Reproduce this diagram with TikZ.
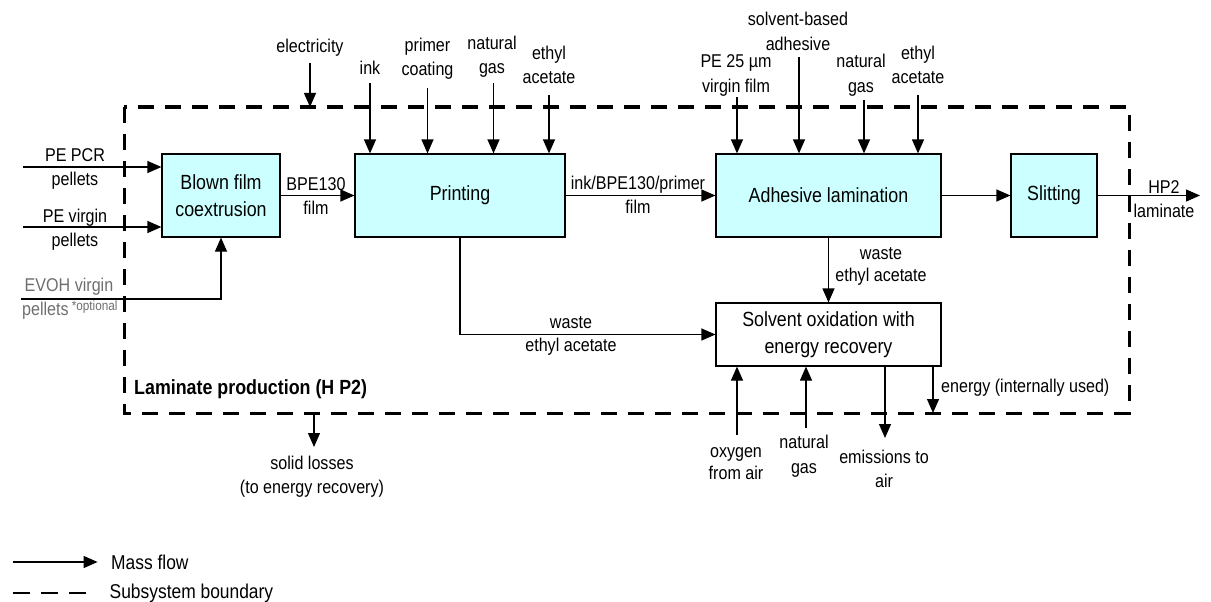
\documentclass[tikz,border=0pt]{standalone}
\usepackage{fontspec}
\setmainfont{Liberation Sans}[FakeStretch=0.87]
\usetikzlibrary{arrows.meta}
\definecolor{boxfill}{RGB}{204,255,255}
\definecolor{evgray}{RGB}{110,110,110}
\begin{document}
\begin{tikzpicture}[x=1pt,y=-1pt,
  lbl/.style={inner sep=0pt, align=center, font=\fontsize{18.5}{24}\selectfont},
  proc/.style={draw, line width=1.2pt, fill=boxfill, minimum height=83pt, inner sep=0pt, align=center, font=\fontsize{20.5}{27}\selectfont},
  flow/.style={line width=1.2pt, -{Triangle[length=14pt,width=12pt]}},
  boundary/.style={line width=3pt, dash pattern=on 16pt off 11pt}]
\useasboundingbox (0,0) rectangle (1211,602);

% subsystem boundary
\draw[boundary] (124,107) rectangle (1129,413);
\node[anchor=west, inner sep=0pt, font=\fontsize{20.5}{24}\selectfont\bfseries] (title) at (134,389) {Laminate production (H P2)};

% process boxes
\node[proc, minimum width=118pt] (blown) at (221,195.5) {Blown film\\coextrusion};
\node[proc, minimum width=210pt] (print) at (460,195.5) {Printing};
\node[proc, minimum width=225pt] (adh) at (828.5,195.5) {Adhesive lamination};
\node[proc, minimum width=86pt] (slit) at (1054,195.5) {Slitting};
\node[proc, minimum width=225pt, minimum height=63pt, fill=white] (solv) at (828.5,334.5) {Solvent oxidation with\\energy recovery};

% main chain
\draw[flow] (blown.east) -- (print.west);
\node[lbl] (bpe) at (316,196) {BPE130\\film};
\draw[flow] (print.east) -- (adh.west);
\node[lbl] (ibp) at (638,195) {ink/BPE130/primer\\film};
\draw[flow] (adh.east) -- (slit.west);
\coordinate (out) at (1200,195.5);
\draw[flow] (slit.east) -- (out);
\node[lbl] (hp2) at (1164,199) {HP2\\laminate};

% waste flows
\draw[flow] (adh.south) -- (solv.north);
\node[lbl, font=\fontsize{18.5}{22}\selectfont] (w2) at (881,266) {waste\\ethyl acetate};
\draw[flow] (print.south) |- (solv.west);
\node[lbl, font=\fontsize{18.5}{23}\selectfont] (w1) at (571,335.5) {waste\\ethyl acetate};

% left inputs
\coordinate (pcrS) at (23,167);
\draw[flow] (pcrS) -- (pcrS -| blown.west);
\node[lbl] (pcr) at (75,169) {PE PCR\\pellets};
\coordinate (pevS) at (23,227);
\draw[flow] (pevS) -- (pevS -| blown.west);
\node[lbl] (pev) at (75,229.5) {PE virgin\\pellets};
\coordinate (evS) at (21,299);
\draw[flow] (evS) -| (blown.south);
\node[lbl, text=evgray] (ev1) at (69,287) {EVOH virgin};
\node[lbl, text=evgray, anchor=west] (ev2) at (22,310) {pellets\,{\fontsize{13.5}{14}\selectfont\raisebox{5pt}{*optional}}};

% top inputs
\coordinate (elS) at (310,63);
\coordinate (elE) at (310,107);
\draw[flow] (elS) -- (elE);
\node[lbl] (el) at (310,48) {electricity};

\coordinate (inkS) at (370,83);
\draw[flow] (inkS) -- (inkS |- print.north);
\node[lbl] (ink) at (370,68) {ink};

\coordinate (prS) at (427.5,88);
\draw[flow] (prS) -- (prS |- print.north);
\node[lbl] (pr) at (427.5,58.5) {primer\\coating};

\coordinate (ng1S) at (493.5,83);
\draw[flow] (ng1S) -- (ng1S |- print.north);
\node[lbl] (ng1) at (492,57) {natural\\gas};

\coordinate (ea1S) at (549,95);
\draw[flow] (ea1S) -- (ea1S |- print.north);
\node[lbl] (ea1) at (549,65) {ethyl\\acetate};

\coordinate (pefS) at (737,97);
\draw[flow] (pefS) -- (pefS |- adh.north);
\node[lbl, font=\fontsize{18.5}{25}\selectfont] (pef) at (736,75.5) {PE 25 µm\\virgin film};

\coordinate (sbS) at (799,57);
\draw[flow] (sbS) -- (sbS |- adh.north);
\node[lbl, font=\fontsize{18.5}{25}\selectfont] (sb) at (798,31.5) {solvent-based\\adhesive};

\coordinate (ng2S) at (864,100);
\draw[flow] (ng2S) -- (ng2S |- adh.north);
\node[lbl, font=\fontsize{18.5}{25}\selectfont] (ng2) at (861,75.5) {natural\\gas};

\coordinate (ea2S) at (918,95);
\draw[flow] (ea2S) -- (ea2S |- adh.north);
\node[lbl] (ea2) at (918,65) {ethyl\\acetate};

% bottom flows of solvent oxidation
\coordinate (oxS) at (737,435);
\draw[flow] (oxS) -- (oxS |- solv.south);
\node[lbl, font=\fontsize{18.5}{22}\selectfont] (ox) at (736,464) {oxygen\\from air};

\coordinate (ng3S) at (806,428);
\draw[flow] (ng3S) -- (ng3S |- solv.south);
\node[lbl, font=\fontsize{18.5}{25}\selectfont] (ng3) at (804,456.5) {natural\\gas};

\coordinate (emE) at (885,438);
\draw[flow] (emE |- solv.south) -- (emE);
\node[lbl] (em) at (884,469) {emissions to\\air};

\coordinate (enE) at (933,413);
\draw[flow] (enE |- solv.south) -- (enE);
\node[lbl, anchor=west] (en) at (941,388) {energy (internally used)};

% solid losses
\coordinate (slS) at (314,413);
\coordinate (slE) at (314,447);
\draw[flow] (slS) -- (slE);
\node[lbl] (sl) at (312,477) {solid losses\\(to energy recovery)};

% legend
\coordinate (l1a) at (12.6,562);
\coordinate (l1b) at (97.6,562);
\draw[flow] (l1a) -- (l1b);
\node[anchor=west, inner sep=0pt, font=\fontsize{20}{24}\selectfont] (lg1) at (111,562) {Mass flow};
\coordinate (l2a) at (12.6,593);
\coordinate (l2b) at (89,593);
\draw[line width=2.4pt, dash pattern=on 17pt off 11.2pt] (l2a) -- (l2b);
\node[anchor=west, inner sep=0pt, font=\fontsize{20}{24}\selectfont] (lg2) at (109.5,593) {Subsystem boundary};
\end{tikzpicture}
\end{document}
